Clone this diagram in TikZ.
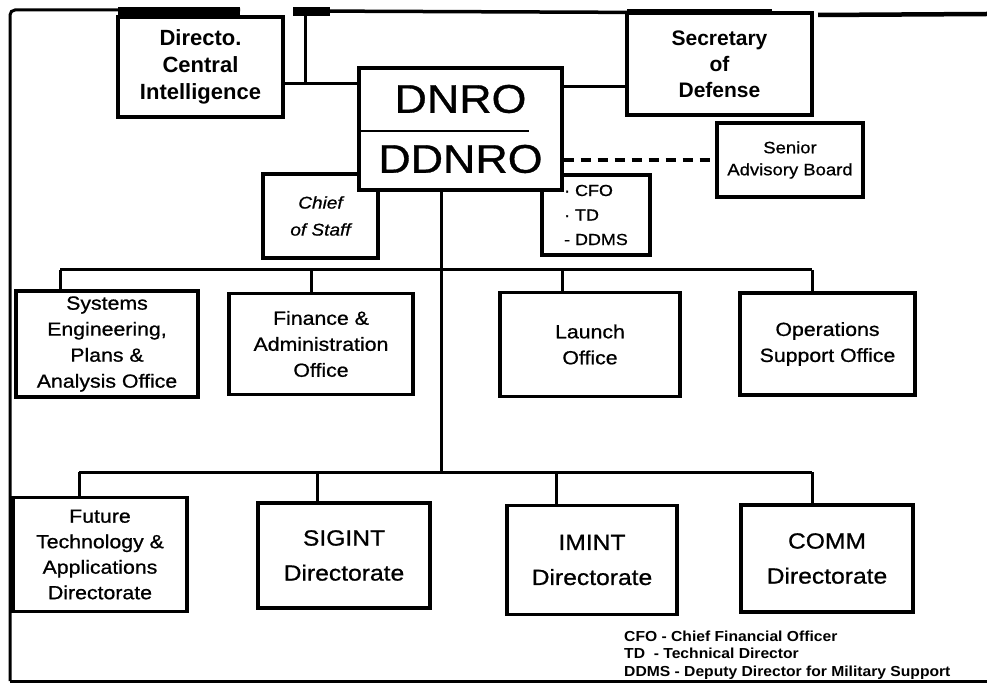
\documentclass[tikz,border=0pt]{standalone}
\usepackage{fontspec}
\setmainfont{Liberation Sans}
\newfontfamily\wfont[FakeStretch=1.12,FakeBold=0.8]{Liberation Sans}
\newfontfamily\legfont[FakeStretch=1.08]{Liberation Sans Bold}
\begin{document}
\begin{tikzpicture}[x=1pt,y=-1pt,
  orgbox/.style={draw, line width=3.2pt, fill=white, inner sep=0pt, align=center,
    font=\wfont\fontsize{19}{26}\selectfont},
  bigbox/.style={orgbox, font=\wfont\fontsize{22}{35}\selectfont},
  topbox/.style={orgbox, font=\bfseries\fontsize{22}{27}\selectfont},
  conn/.style={line width=3pt},
  frameline/.style={line width=3pt},
]
\useasboundingbox (0,0) rectangle (987,684);

% named junction points
\coordinate (fb) at (10,681);
\coordinate (fbr) at (987,681);
\coordinate (ft1) at (240,10);
\coordinate (t1) at (305,11);
\coordinate (t2) at (772,13);
\coordinate (t3) at (818,15);
\coordinate (t4) at (987,14);
\coordinate (j1) at (305,84);
\coordinate (j2) at (600,87);
\coordinate (jd) at (600,160);
\coordinate (tb) at (441,472);
\coordinate (ub1) at (60,270);
\coordinate (ub2) at (311,270);
\coordinate (ub3) at (562,270);
\coordinate (ub4) at (812,270);
\coordinate (lb1) at (79,472);
\coordinate (lb2) at (317,472);
\coordinate (lb3) at (556,472);
\coordinate (lb4) at (812,472);

% frame
\draw[frameline, rounded corners=5pt] (fb) |- (ft1);
\draw[frameline] (fb) -- (fbr);
\fill (118,7) rectangle (240,17);
\draw[line width=3.5pt] (293,11) -- (t1) -- (t2);
\fill (293,7) rectangle (330,16);
\fill (627,9) rectangle (772,19);
\draw[line width=4.5pt] (t3) -- (t4);
\draw[conn] (t1) -- (j1);

% nodes
\node[topbox, minimum width=165pt, minimum height=100pt] (dci) at (200.5,67)
  {Directo.\\Central\\Intelligence};
\node[topbox, font=\bfseries\fontsize{21}{26}\selectfont, minimum width=185pt, minimum height=102pt] (secdef) at (719.5,64)
  {Secretary\\of\\Defense};
\node[orgbox, font=\wfont\fontsize{16.5}{22}\selectfont, minimum width=146pt, minimum height=74pt] (sab) at (790,160)
  {Senior\\Advisory Board};
\node[orgbox, font=\wfont\itshape\fontsize{17}{27}\selectfont, minimum width=115pt, minimum height=84pt] (cos) at (320.5,216)
  {Chief\\of Staff};
\node[orgbox, align=left, font=\wfont\fontsize{16}{24.5}\selectfont, minimum width=108pt, minimum height=80pt] (cfo) at (596,215)
  {\textperiodcentered\ CFO\\\textperiodcentered\ TD\\- DDMS};

\node[orgbox, font=\wfont\fontsize{40}{60}\selectfont, minimum width=203pt, minimum height=122pt] (dnro) at (460.5,129)
  {DNRO\\DDNRO};
\draw[line width=2.5pt] ([yshift=-2pt]dnro.west) -- ([xshift=-35pt,yshift=-2pt]dnro.east);

% connectors (top level)
\draw[conn] (dci.east |- j1) -- (dnro.west |- j1);
\draw[conn] (dnro.east |- j2) -- (secdef.west |- j2);
\draw[line width=4pt, dash pattern=on 10pt off 7pt] (dnro.east |- jd) -- (sab.west);

% lower organisation
\draw[conn] (dnro.south -| tb) -- (tb);
\draw[conn] (ub1) -- (ub4);
\draw[conn] (lb1) -- (lb4);

\node[orgbox, minimum width=182pt, minimum height=106pt] (u1) at (107,344)
  {Systems\\Engineering,\\Plans \&\\Analysis Office};
\node[orgbox, minimum width=184pt, minimum height=101pt] (u2) at (321,344)
  {Finance \&\\Administration\\Office};
\node[orgbox, minimum width=180pt, minimum height=104pt] (u3) at (590,344.5)
  {Launch\\Office};
\node[orgbox, minimum width=175pt, minimum height=102pt] (u4) at (827.5,344)
  {Operations\\Support Office};

\node[orgbox, minimum width=174pt, minimum height=114pt, font=\wfont\fontsize{19}{25.5}\selectfont] (l1) at (100,554.5)
  {Future\\Technology \&\\Applications\\Directorate};
\node[bigbox, minimum width=172pt, minimum height=105pt] (l2) at (344,555.5)
  {SIGINT\\Directorate};
\node[bigbox, minimum width=170pt, minimum height=109pt] (l3) at (592,560)
  {IMINT\\Directorate};
\node[bigbox, minimum width=172pt, minimum height=107pt] (l4) at (827,558.5)
  {COMM\\Directorate};

\draw[conn] (ub1) -- (ub1 |- u1.north);
\draw[conn] (ub2) -- (ub2 |- u2.north);
\draw[conn] (ub3) -- (ub3 |- u3.north);
\draw[conn] (ub4) -- (ub4 |- u4.north);
\draw[conn] (lb1) -- (lb1 |- l1.north);
\draw[conn] (lb2) -- (lb2 |- l2.north);
\draw[conn] (lb3) -- (lb3 |- l3.north);
\draw[conn] (lb4) -- (lb4 |- l4.north);

% legend
\node[anchor=west, align=left, inner sep=0pt, font=\legfont\fontsize{14.5}{17.5}\selectfont] (legend) at (624,655)
  {CFO - Chief Financial Officer\\TD\ \ - Technical Director\\DDMS - Deputy Director for Military Support};
\end{tikzpicture}
\end{document}
